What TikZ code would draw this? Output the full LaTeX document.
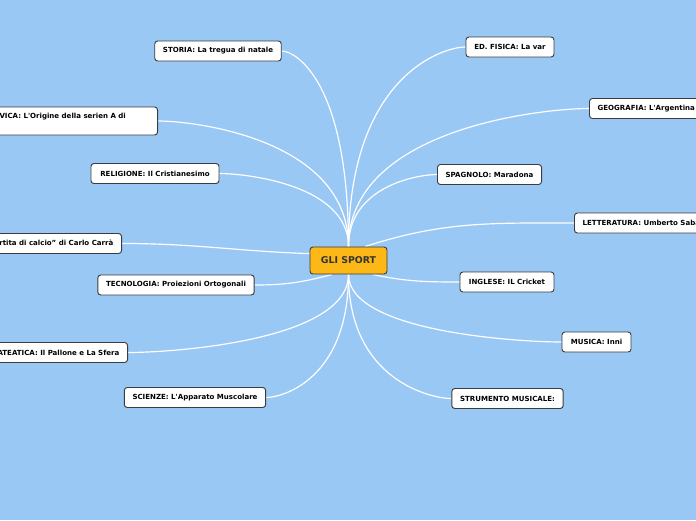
\documentclass[tikz,border=0pt]{standalone}
\usepackage{fontspec}
\setmainfont{DejaVu Sans}
\usetikzlibrary{calc}
\definecolor{mapbg}{RGB}{154,200,245}
\definecolor{rootfill}{RGB}{252,184,22}
\definecolor{boxline}{RGB}{60,60,60}
\pgfdeclarelayer{bg}
\pgfdeclarelayer{links}
\pgfsetlayers{bg,links,main}
\begin{document}
\begin{tikzpicture}[
    x=0.03cm, y=-0.03cm,
    topic/.style={draw=boxline, fill=white, rounded corners=2.5pt, line width=0.8pt,
      font=\fontsize{6}{8}\selectfont\bfseries, inner xsep=7pt, inner ysep=0pt, minimum height=0.6cm},
    root/.style={topic, fill=rootfill, text=black!80, font=\fontsize{8}{10}\selectfont\bfseries,
      minimum width=2.31cm, minimum height=0.81cm},
    link/.style={white, line width=1pt}
  ]
  \begin{pgfonlayer}{bg}
    \fill[mapbg] (0,0) rectangle (696,520);
  \end{pgfonlayer}
  \useasboundingbox (0,0) rectangle (696,520);

  \node[root] (root) at (348.5,260.5) {GLI SPORT};

  % left side
  \node[topic, minimum width=3.78cm] (storia) at (218,51) {STORIA: La tregua di natale};
  \node[topic, anchor=east, align=left, minimum height=0.84cm] (civica) at (158,121)
    {EDUCAZIONE CIVICA: L\textquotesingle Origine della serien A di\hspace*{20pt}\\\mbox{}};
  \node[topic, minimum width=3.84cm] (religione) at (155,173.5) {RELIGIONE: Il Cristianesimo};
  \node[topic, anchor=east] (arte) at (122,243.5) {ARTE: "La partita di calcio" di Carlo Carrà};
  \node[topic, minimum width=4.68cm] (tecnologia) at (176,285) {TECNOLOGIA: Proiezioni Ortogonali};
  \node[topic, anchor=east] (matematica) at (128,352.5) {MATEATICA: Il Pallone e La Sfera};
  \node[topic, minimum width=4.2cm] (scienze) at (195,397.5) {SCIENZE: L\textquotesingle Apparato Muscolare};

  % right side
  \node[topic, minimum width=2.64cm] (fisica) at (510,47) {ED. FISICA: La var};
  \node[topic, anchor=west] (geografia) at (589,108.5) {GEOGRAFIA: L\textquotesingle Argentina};
  \node[topic, minimum width=3.09cm] (spagnolo) at (489.5,174.5) {SPAGNOLO: Maradona};
  \node[topic, anchor=west] (letteratura) at (574,223) {LETTERATURA: Umberto Saba};
  \node[topic, minimum width=2.82cm] (inglese) at (507,282) {INGLESE: IL Cricket};
  \node[topic, minimum width=2.07cm] (musica) at (596.5,342) {MUSICA: Inni};
  \node[topic, minimum width=3.33cm] (strumento) at (507.5,398.5) {STRUMENTO MUSICALE:};

  % links under the boxes
  \begin{pgfonlayer}{links}
  \foreach \n/\s/\e in {storia/north/east, civica/north/east, religione/north/east,
      fisica/north/west, geografia/north/west, spagnolo/north/west,
      matematica/south/east, scienze/south/east,
      musica/south/west, strumento/south/west} {
    \draw[link] (root.\s) .. controls ($(root.\s)!0.85!(root.\s |- \n.\e)$)
      and ($(\n.\e)!0.2!(root.\s |- \n.\e)$) .. (\n.\e);
  }
  \draw[link] (root.170) to[out=178, in=0] (arte.east);
  \draw[link] (root.-140) to[out=195, in=0] (tecnologia.east);
  \draw[link] (root.40) to[out=18, in=180] (letteratura.west);
  \draw[link] (root.-30) to[out=-12, in=180] (inglese.west);
  \end{pgfonlayer}
\end{tikzpicture}
\end{document}
